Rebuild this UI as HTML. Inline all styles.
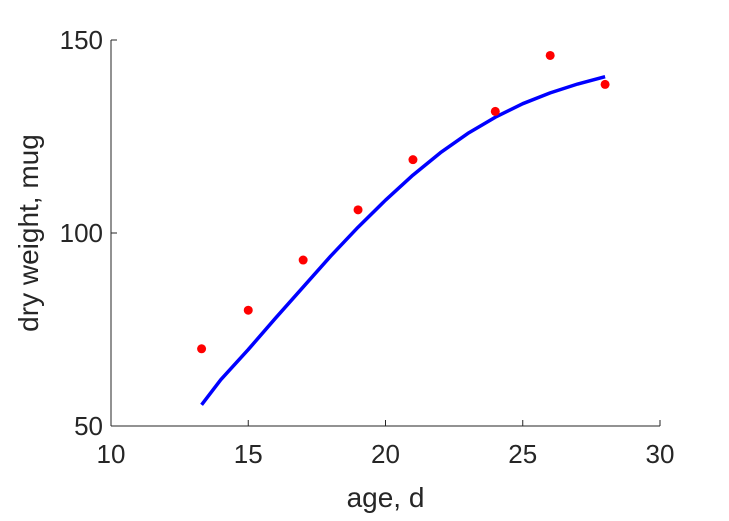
<!DOCTYPE html>
<html><head><meta charset="utf-8"><style>
body{margin:0;background:#fff;}
svg{display:block;font-family:"Liberation Sans",sans-serif;}
</style></head><body>
<svg id="chart" width="729" height="521"></svg>
<script>
const pointX=[13.3,15,17,19,21,24,26,28];
const pointY=[70,80,93,106,119,131.5,146,138.5];
const fitX=[13.3,14,15,16,17,18,19,20,21,22,23,24,25,26,27,28];
const fitY=[55.5,62,69.8,78,86,94,101.5,108.5,115,120.8,125.8,130,133.5,136.3,138.6,140.5];
const xTicks=[10,15,20,25,30];
const yTicks=[50,100,150];
const L=111,R=660,T=40,B=426;
const sx=v=>L+(v-10)/20*(R-L);
const sy=v=>B-(v-50)/100*(B-T);
const svg=document.getElementById('chart');
const NS='http://www.w3.org/2000/svg';
function mk(tag,attrs,parent){const e=document.createElementNS(NS,tag);for(const k in attrs)e.setAttribute(k,attrs[k]);(parent||svg).appendChild(e);return e;}
let e;
e=mk('line',{x1:L,y1:B,x2:R,y2:B,stroke:'#262626','stroke-width':1});


e=mk('line',{x1:L,y1:T,x2:L,y2:B,stroke:'#262626','stroke-width':1});


xTicks.forEach(t=>{
 e=mk('line',{x1:sx(t),y1:B,x2:sx(t),y2:B-6,stroke:'#262626'});
 
 
 e=mk('text',{x:sx(t),y:B+37,'text-anchor':'middle','font-size':26,fill:'#262626'});
 e.textContent=t;
 
 
});
yTicks.forEach(t=>{
 e=mk('line',{x1:L,y1:sy(t),x2:L+6,y2:sy(t),stroke:'#262626'});
 
 
 e=mk('text',{x:L-8,y:sy(t)+9,'text-anchor':'end','font-size':26,fill:'#262626'});
 e.textContent=t;
 
 
});
e=mk('text',{x:(L+R)/2,y:507,'text-anchor':'middle','font-size':28,fill:'#262626'});
e.textContent='age, d';


e=mk('text',{x:0,y:0,'text-anchor':'middle','font-size':28,fill:'#262626',transform:`translate(38,${(T+B)/2}) rotate(-90)`});
e.textContent='dry weight, mug';


e=mk('polyline',{points:fitX.map((x,i)=>sx(x)+','+sy(fitY[i])).join(' '),fill:'none',stroke:'#0000ff','stroke-width':3.5,'stroke-linejoin':'round'});


pointX.forEach((x,i)=>{
 e=mk('circle',{cx:sx(x),cy:sy(pointY[i]),r:4.5,fill:'#ff0000'});
 
 
});
</script>
</body></html>
